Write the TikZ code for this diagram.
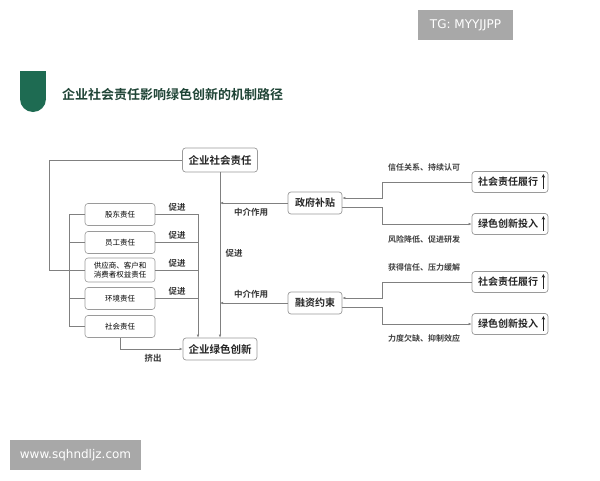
\documentclass[tikz,border=0pt]{standalone}
\usepackage{fontspec}
\setmainfont{Noto Sans CJK SC}[BoldFont={Noto Sans CJK SC Bold}]
\newfontfamily\wmfont{DejaVu Sans}
\usetikzlibrary{arrows.meta}
\definecolor{lineg}{HTML}{808080}
\definecolor{boxg}{HTML}{9A9A9A}
\definecolor{hdgreen}{HTML}{1E6B52}
\definecolor{hdtext}{HTML}{1F4436}
\definecolor{wmgray}{HTML}{A8A8A8}
\tikzset{
  mainbox/.style={draw=boxg, line width=0.7pt, rounded corners=3pt, font=\bfseries\fontsize{10.5}{12}\selectfont, text=black!85, inner sep=0pt},
  subbox/.style={draw=boxg, line width=0.6pt, rounded corners=3pt, font=\fontsize{7.5}{9}\selectfont, text=black, minimum width=70pt, minimum height=22pt, inner sep=0pt, align=center},
  rbox/.style={draw=boxg, line width=0.7pt, rounded corners=3pt, font=\bfseries\fontsize{10}{12}\selectfont, text=black!85, minimum width=76pt, minimum height=21pt, inner sep=0pt, text width=76pt, align=left},
  conn/.style={draw=lineg, line width=0.6pt},
  arr/.style={conn, -{Latex[length=3pt,width=2.6pt]}},
  lbl/.style={font=\bfseries\fontsize{8.5}{10}\selectfont, text=black!80, inner sep=0pt},
  rlbl/.style={font=\bfseries\fontsize{8}{10}\selectfont, text=black!75, inner sep=0pt},
  wm/.style={fill=wmgray, text=white, inner sep=0pt}
}
\begin{document}
\begin{tikzpicture}[x=1pt,y=-1pt]
\useasboundingbox[fill=white] (0,0) rectangle (600,480);
% watermarks
\node[wm, minimum width=95pt, minimum height=30pt, font=\wmfont\fontsize{12}{14}\selectfont] (tg) at (465.5,25) {TG: MYYJJPP};
\node[wm, minimum width=131pt, minimum height=30pt, font=\wmfont\fontsize{12}{14}\selectfont] (www) at (75.5,455) {www.sqhndljz.com};
% header
\fill[hdgreen] (20,71) rectangle (46,99);
\fill[hdgreen] (33,99) circle[radius=13pt];
\node[anchor=west, font=\bfseries\fontsize{13}{15}\selectfont, text=hdtext, inner sep=0pt] (title) at (62,95) {企业社会责任影响绿色创新的机制路径};
% main nodes
\node[mainbox, minimum width=75pt, minimum height=24pt] (n1) at (220,160) {企业社会责任};
\node[mainbox, minimum width=74pt, minimum height=22pt] (n2) at (220,349) {企业绿色创新};
\node[subbox] (s1) at (120,214.5) {股东责任};
\node[subbox] (s2) at (120,242.5) {员工责任};
\node[subbox, minimum height=24pt] (s3) at (120,270) {供应商、客户和\\消费者权益责任};
\node[subbox] (s4) at (120,298.5) {环境责任};
\node[subbox] (s5) at (120,326.5) {社会责任};
\node[mainbox, minimum width=54pt, minimum height=22pt, font=\bfseries\fontsize{10}{12}\selectfont] (g) at (315,203) {政府补贴};
\node[mainbox, minimum width=54pt, minimum height=22pt, font=\bfseries\fontsize{10}{12}\selectfont] (f) at (315,303) {融资约束};
\node[rbox] (r1) at (510,182) {\hspace*{6pt}社会责任履行};
\node[rbox] (r2) at (510,224) {\hspace*{6pt}绿色创新投入};
\node[rbox] (r3) at (510,282) {\hspace*{6pt}社会责任履行};
\node[rbox] (r4) at (510,324) {\hspace*{6pt}绿色创新投入};
\foreach \r in {r1,r2,r3,r4}{
  \draw[line width=0.8pt, black!85, -{Stealth[length=3.5pt,width=3.5pt]}] ([xshift=-5pt,yshift=4pt]\r.south east) -- ([xshift=-5pt,yshift=-3pt]\r.north east);
}
% helper coordinates
\coordinate (vt) at (198,214.5);
\coordinate (jx) at (382,0);
% left loop
\draw[conn] (n1.west) -- ++(-133,0) |- (s3.west);
% bracket
\draw[conn] (s1.west) -- ++(-15,0) |- (s5.west);
\draw[conn] (s2.west) -- ++(-15,0);
\draw[conn] (s3.west) -- ++(-15,0);
\draw[conn] (s4.west) -- ++(-15,0);
% promote lines
\draw[arr] (s1.east) -- (vt) -- (vt |- n2.north);
\draw[conn] (s2.east) -- (s2.east -| vt);
\draw[conn] (s3.east) -- (s3.east -| vt);
\draw[conn] (s4.east) -- (s4.east -| vt);
\node[lbl] (p1) at (177,207) {促进};
\node[lbl] (p2) at (177,235) {促进};
\node[lbl] (p3) at (177,263) {促进};
\node[lbl] (p4) at (177,291) {促进};
% main vertical
\draw[arr] (n1.south) -- (n2.north);
\node[lbl] (p5) at (234,253) {促进};
% crowding out
\draw[arr] (s5.south) |- (n2.west);
\node[lbl] (jc) at (153,358) {挤出};
% mediation
\draw[arr] (g.west) -- (g.west -| n1.south);
\node[lbl] (m1) at (251,212) {中介作用};
\draw[arr] (f.west) -- (f.west -| n1.south);
\node[lbl] (m2) at (251,294) {中介作用};
% right branches
\draw[arr] (r1.west) -- (r1.west -| jx) |- ([yshift=5pt]g.east);
\draw[arr] ([yshift=-4pt]g.east) -| (jx |- r2.west) -- (r2.west);
\draw[arr] (r3.west) -- (r3.west -| jx) |- ([yshift=5pt]f.east);
\draw[arr] ([yshift=-4pt]f.east) -| (jx |- r4.west) -- (r4.west);
\node[rlbl] (l1) at (424,167) {信任关系、持续认可};
\node[rlbl] (l2) at (424,239) {风险降低、促进研发};
\node[rlbl] (l3) at (424,267) {获得信任、压力缓解};
\node[rlbl] (l4) at (424,338) {力度欠缺、抑制效应};
\end{tikzpicture}
\end{document}
